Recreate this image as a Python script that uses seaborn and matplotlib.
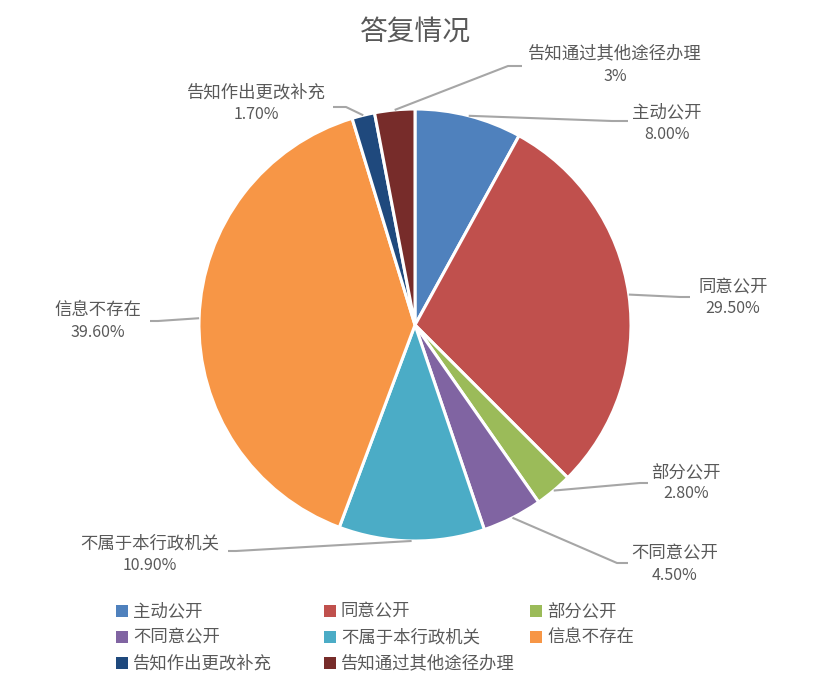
# 答复情况 饼图
import numpy as np
import matplotlib.pyplot as plt
import seaborn as sns

W, H = 832, 694

# 数据
labels = ['主动公开', '同意公开', '部分公开', '不同意公开',
          '不属于本行政机关', '信息不存在', '告知作出更改补充', '告知通过其他途径办理']
values = [8.00, 29.50, 2.80, 4.50, 10.90, 39.60, 1.70, 3]
pct_texts = ['8.00%', '29.50%', '2.80%', '4.50%', '10.90%', '39.60%', '1.70%', '3%']
colors = ['#4F81BD', '#C0504D', '#9BBB59', '#8064A2',
          '#4BACC6', '#F79646', '#1F497D', '#772C2A']

sns.set_theme(style='white')
plt.rcParams['font.family'] = ['Noto Sans CJK SC', 'DejaVu Sans']

fig = plt.figure(figsize=(W / 100, H / 100), dpi=100)
ax = fig.add_axes([0, 0, 1, 1])

cx, cy, R = 415, 325, 216
wedges, _ = ax.pie(values, colors=colors, startangle=90, counterclock=False,
                   center=(cx, H - cy), radius=R,
                   wedgeprops=dict(edgecolor='white', linewidth=2.2))
ax.set_xlim(0, W)
ax.set_ylim(0, H)
ax.set_aspect('equal')
ax.axis('off')

# 标签位置（像素）：文字中心x，名称y，百分比y，折点，末端
label_pos = [
    (667, 112, 134, (612, 121), (628, 121)),
    (733, 287, 308, (680, 297), (690, 297)),
    (686, 472, 494, (640, 483), (648, 483)),
    (675, 553, 575, (617, 563), (628, 563)),
    (150, 543, 565, (236, 551), (228, 551)),
    (98, 310, 332, (158, 321), (150, 321)),
    (256, 92, 114, (346, 107), (333, 107)),
    (615, 53, 76, (508, 66), (522, 66)),
]

txt_color = '#595959'
line_color = '#A6A6A6'
for w, name, pct, (tx, ny, py, elbow, end) in zip(wedges, labels, pct_texts, label_pos):
    mid = np.deg2rad((w.theta1 + w.theta2) / 2)
    sx = w.center[0] + w.r * np.cos(mid)
    sy = w.center[1] + w.r * np.sin(mid)
    ax.plot([sx, elbow[0], end[0]], [sy, H - elbow[1], H - end[1]],
            color=line_color, lw=1.5, solid_capstyle='butt')
    ax.text(tx, H - ny, name, ha='center', va='center', fontsize=12.5, color=txt_color)
    ax.text(tx, H - py, pct, ha='center', va='center', fontsize=11.5, color=txt_color)

# 标题
ax.text(415, H - 32, '答复情况', ha='center', va='center', fontsize=20, color=txt_color)

# 图例（3列）
col_x = [117, 325, 531]
row_y = [611, 637, 663]
for i, (name, c) in enumerate(zip(labels, colors)):
    x = col_x[i % 3]
    y = row_y[i // 3]
    ax.scatter([x + 4.5], [H - y], marker='s', s=70, color=c, linewidths=0)
    ax.text(x + 16, H - y, name, ha='left', va='center', fontsize=12.5, color=txt_color)

fig.savefig('out.png', dpi=100)
